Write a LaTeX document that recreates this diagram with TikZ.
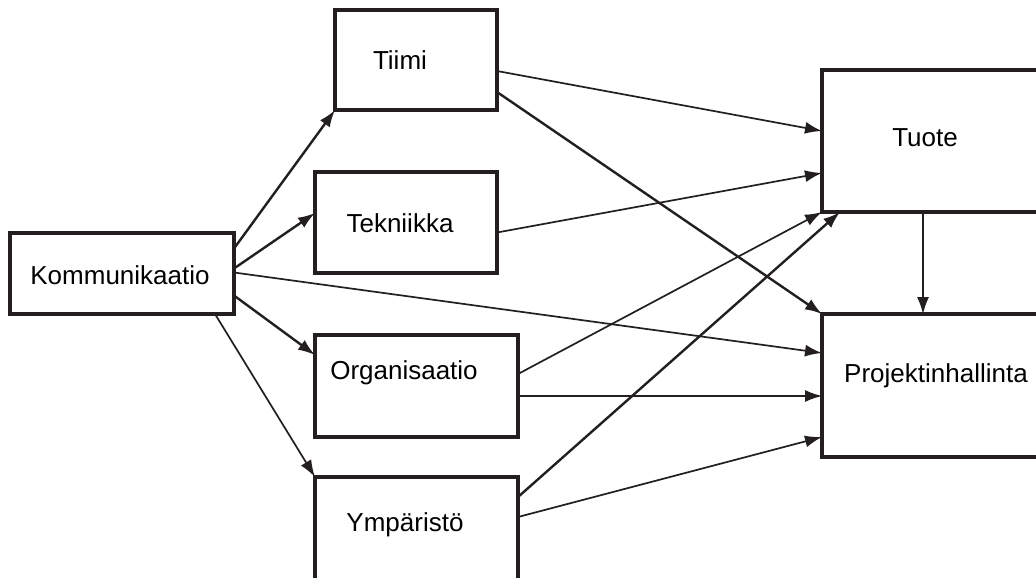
\documentclass[tikz,border=0pt]{standalone}
\usepackage{fontspec}
\setmainfont{Liberation Sans}
\usetikzlibrary{calc,arrows.meta}
\definecolor{ink}{HTML}{231F20}
\tikzset{
  box/.style={draw=ink, line width=4pt, rectangle, inner sep=0pt, outer sep=0pt},
  lbl/.style={font=\fontsize{26}{31}\selectfont, text=black, inner sep=0pt},
  link/.style={draw=ink, line width=1.7pt, -{Latex[length=17pt,width=12pt]}},
  boldlink/.style={link, line width=2.4pt},
  thinlink/.style={link, line width=1.4pt}
}
\begin{document}
\begin{tikzpicture}[x=1pt,y=-1pt]
\clip (0,0) rectangle (1036,578);
\fill[white] (0,0) rectangle (1036,578);

% boxes
\node[box, minimum width=224pt, minimum height=81pt]  (komm)  at (122,273.5) {};
\node[box, minimum width=162pt, minimum height=100pt] (tiimi) at (416,60) {};
\node[box, minimum width=182pt, minimum height=101pt] (tekn)  at (406,222.5) {};
\node[box, minimum width=203pt, minimum height=102pt] (org)   at (416.5,386) {};
\node[box, minimum width=203pt, minimum height=123pt] (ymp)   at (416.5,538.5) {};
\node[box, minimum width=238pt, minimum height=142pt] (tuote) at (941,141) {};
\node[box, minimum width=238pt, minimum height=143pt] (proj)  at (941,385.5) {};

% labels
\node[lbl] (tkomm)  at (120,275) {Kommunikaatio};
\node[lbl] (ttiimi) at (400,60) {Tiimi};
\node[lbl] (ttekn)  at (400,223) {Tekniikka};
\node[lbl] (torg)   at (404,373) {Organisaatio};
\node[lbl] (tymp)   at (405,525) {Ympäristö};
\node[lbl] (ttuote) at (925,138) {Tuote};
\node[lbl] (tproj)  at (936,376) {Projektinhallinta};

% connectors from Kommunikaatio
\draw[boldlink] ($(komm.east)+(0,-25)$) -- (tiimi.south west);
\draw[boldlink] ($(komm.east)+(0,-5)$) -- ($(tekn.west)+(0,-9.5)$);
\draw[link] ($(komm.east)+(0,-1)$) -- ($(proj.west)+(0,-32.5)$);
\draw[boldlink] ($(komm.east)+(0,22)$) -- ($(org.north west)+(0,20)$);
\draw[link] ($(komm.south east)+(-19,0)$) -- (ymp.north west);

% connectors into Tuote and Projektinhallinta
\draw[link] ($(tiimi.east)+(0,11)$) -- ($(tuote.west)+(0,-10)$);
\draw[boldlink] ($(tiimi.east)+(0,32)$) -- (proj.north west);
\draw[link] ($(tekn.east)+(0,10)$) -- ($(tuote.west)+(0,32)$);
\draw[link] ($(org.east)+(0,-12)$) -- (tuote.south west);
\draw[thinlink] ($(org.east)+(0,10)$) -- ($(proj.west)+(0,10.5)$);
\draw[boldlink] ($(ymp.north east)+(0,20)$) -- ($(tuote.south west)+(18,0)$);
\draw[link] ($(ymp.north east)+(0,40)$) -- ($(proj.south west)+(0,-20)$);
\draw[thinlink] ($(tuote.south west)+(101,0)$) -- ($(proj.north west)+(101,0)$);
\end{tikzpicture}
\end{document}
